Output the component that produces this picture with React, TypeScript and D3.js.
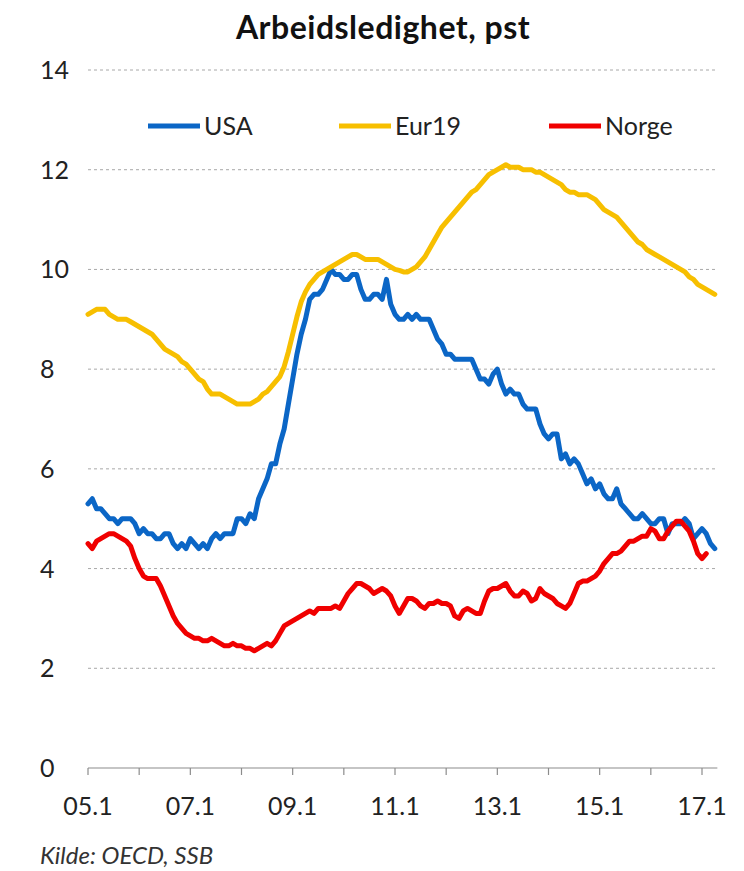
import { useEffect, useRef } from "react";
import * as d3 from "d3";

// monthly, starting January 2005
const usa = [
  5.3, 5.4, 5.2, 5.2, 5.1, 5.0, 5.0, 4.9, 5.0, 5.0, 5.0, 4.9,
  4.7, 4.8, 4.7, 4.7, 4.6, 4.6, 4.7, 4.7, 4.5, 4.4, 4.5, 4.4,
  4.6, 4.5, 4.4, 4.5, 4.4, 4.6, 4.7, 4.6, 4.7, 4.7, 4.7, 5.0,
  5.0, 4.9, 5.1, 5.0, 5.4, 5.6, 5.8, 6.1, 6.1, 6.5, 6.8, 7.3,
  7.8, 8.3, 8.7, 9.0, 9.4, 9.5, 9.5, 9.6, 9.8, 10.0, 9.9, 9.9,
  9.8, 9.8, 9.9, 9.9, 9.6, 9.4, 9.4, 9.5, 9.5, 9.4, 9.8, 9.3,
  9.1, 9.0, 9.0, 9.1, 9.0, 9.1, 9.0, 9.0, 9.0, 8.8, 8.6, 8.5,
  8.3, 8.3, 8.2, 8.2, 8.2, 8.2, 8.2, 8.0, 7.8, 7.8, 7.7, 7.9,
  8.0, 7.7, 7.5, 7.6, 7.5, 7.5, 7.3, 7.2, 7.2, 7.2, 6.9, 6.7,
  6.6, 6.7, 6.7, 6.2, 6.3, 6.1, 6.2, 6.1, 5.9, 5.7, 5.8, 5.6,
  5.7, 5.5, 5.4, 5.4, 5.6, 5.3, 5.2, 5.1, 5.0, 5.0, 5.1, 5.0,
  4.9, 4.9, 5.0, 5.0, 4.7, 4.9, 4.9, 4.9, 5.0, 4.9, 4.6, 4.7,
  4.8, 4.7, 4.5, 4.4,
];

const eur19 = [
  9.1, 9.15, 9.2, 9.2, 9.2, 9.1, 9.05, 9.0, 9.0, 9.0, 8.95, 8.9,
  8.85, 8.8, 8.75, 8.7, 8.6, 8.5, 8.4, 8.35, 8.3, 8.25, 8.15, 8.1,
  8.0, 7.9, 7.8, 7.75, 7.6, 7.5, 7.5, 7.5, 7.45, 7.4, 7.35, 7.3,
  7.3, 7.3, 7.3, 7.35, 7.4, 7.5, 7.55, 7.65, 7.75, 7.85, 8.05, 8.35,
  8.7, 9.05, 9.35, 9.55, 9.7, 9.8, 9.9, 9.95, 10.0, 10.05, 10.1, 10.15,
  10.2, 10.25, 10.3, 10.3, 10.25, 10.2, 10.2, 10.2, 10.2, 10.15, 10.1, 10.05,
  10.0, 9.98, 9.95, 9.95, 10.0, 10.05, 10.15, 10.25, 10.4, 10.55, 10.7, 10.85,
  10.95, 11.05, 11.15, 11.25, 11.35, 11.45, 11.55, 11.6, 11.7, 11.8, 11.9, 11.95,
  12.0, 12.05, 12.1, 12.05, 12.05, 12.05, 12.0, 12.0, 12.0, 11.95, 11.95, 11.9,
  11.85, 11.8, 11.75, 11.7, 11.6, 11.55, 11.55, 11.5, 11.5, 11.5, 11.45, 11.4,
  11.3, 11.2, 11.15, 11.1, 11.05, 10.95, 10.85, 10.75, 10.65, 10.55, 10.5, 10.4,
  10.35, 10.3, 10.25, 10.2, 10.15, 10.1, 10.05, 10.0, 9.95, 9.85, 9.8, 9.7,
  9.65, 9.6, 9.55, 9.5,
];

const norge = [
  4.5, 4.4, 4.55, 4.6, 4.65, 4.7, 4.7, 4.65, 4.6, 4.55, 4.45, 4.2,
  4.0, 3.85, 3.8, 3.8, 3.8, 3.65, 3.45, 3.25, 3.05, 2.9, 2.8, 2.7,
  2.65, 2.6, 2.6, 2.55, 2.55, 2.6, 2.55, 2.5, 2.45, 2.45, 2.5, 2.45,
  2.45, 2.4, 2.4, 2.35, 2.4, 2.45, 2.5, 2.45, 2.55, 2.7, 2.85, 2.9,
  2.95, 3.0, 3.05, 3.1, 3.15, 3.1, 3.2, 3.2, 3.2, 3.2, 3.25, 3.2,
  3.35, 3.5, 3.6, 3.7, 3.7, 3.65, 3.6, 3.5, 3.55, 3.6, 3.55, 3.45,
  3.25, 3.1, 3.25, 3.4, 3.4, 3.35, 3.25, 3.2, 3.3, 3.3, 3.35, 3.3,
  3.3, 3.25, 3.05, 3.0, 3.15, 3.2, 3.15, 3.1, 3.1, 3.35, 3.55, 3.6,
  3.6, 3.65, 3.7, 3.55, 3.45, 3.45, 3.55, 3.5, 3.35, 3.4, 3.6, 3.5,
  3.45, 3.4, 3.3, 3.25, 3.2, 3.3, 3.5, 3.7, 3.75, 3.75, 3.8, 3.85,
  3.95, 4.1, 4.2, 4.3, 4.3, 4.35, 4.45, 4.55, 4.55, 4.6, 4.65, 4.65,
  4.8, 4.75, 4.6, 4.6, 4.75, 4.85, 4.95, 4.95, 4.85, 4.75, 4.55, 4.3,
  4.2, 4.3,
];

const seriesNames = ["USA", "Eur19", "Norge"];
const seriesColors = ["#0B66C6", "#F7BF00", "#F00000"];
const xTickLabels = ["05.1", "07.1", "09.1", "11.1", "13.1", "15.1", "17.1"];
const yTicks = [0, 2, 4, 6, 8, 10, 12, 14];

const font = "Lato, 'Open Sans', sans-serif";

export default function App() {
  const svgRef = useRef<SVGSVGElement | null>(null);

  useEffect(() => {
    const svg = d3.select(svgRef.current);
    svg.selectAll("*").remove();

    const width = 744;
    const height = 871;
    svg.attr("width", width).attr("height", height);

    svg.append("rect").attr("width", width).attr("height", height).attr("fill", "#fff");

    const x = d3.scaleLinear().domain([0, 144]).range([88, 702]);
    const y = d3.scaleLinear().domain([0, 14]).range([768, 70]);
    const xEnd = x(147.6);

    // title
    svg
      .append("text")
      .attr("x", 383)
      .attr("y", 39)
      .attr("text-anchor", "middle")
      .attr("font-family", font)
      .attr("font-weight", 700)
      .attr("font-size", 32)
      .attr("letter-spacing", 0.5)
      .attr("fill", "#111")
      .text("Arbeidsledighet, pst");

    // gridlines
    svg
      .append("g")
      .selectAll("line")
      .data(yTicks.filter((t) => t > 0))
      .join("line")
      .attr("x1", x(0))
      .attr("x2", xEnd)
      .attr("y1", (d) => y(d))
      .attr("y2", (d) => y(d))
      .attr("stroke", "#a8a8a8")
      .attr("stroke-width", 1)
      .attr("stroke-dasharray", "3,3");

    // y labels (left aligned, like the original)
    svg
      .append("g")
      .selectAll("text")
      .data(yTicks)
      .join("text")
      .attr("x", 40)
      .attr("y", (d) => y(d))
      .attr("dy", "0.36em")
      .attr("font-family", font)
      .attr("font-size", 25)
      .attr("fill", "#222")
      .text((d) => d);

    // x axis
    const xAxis = svg.append("g").attr("transform", `translate(0, ${y(0)})`);
    xAxis
      .append("line")
      .attr("x1", x(0))
      .attr("x2", xEnd)
      .attr("stroke", "#8c8c8c")
      .attr("stroke-width", 1.2);
    xAxis
      .selectAll(".tick")
      .data(d3.range(0, 145, 12))
      .join("line")
      .attr("class", "tick")
      .attr("x1", (d) => x(d))
      .attr("x2", (d) => x(d))
      .attr("y1", 0)
      .attr("y2", 7)
      .attr("stroke", "#8c8c8c")
      .attr("stroke-width", 1.2);
    xAxis
      .selectAll(".lbl")
      .data(xTickLabels)
      .join("text")
      .attr("class", "lbl")
      .attr("x", (_d, i) => x(i * 24))
      .attr("y", 47)
      .attr("text-anchor", "middle")
      .attr("font-family", font)
      .attr("font-size", 25)
      .attr("fill", "#222")
      .text((d) => d);

    // lines
    const line = d3
      .line<number>()
      .x((_d, i) => x(i))
      .y((d) => y(d));

    [usa, eur19, norge].forEach((values, i) => {
      svg
        .append("path")
        .datum(values)
        .attr("d", line)
        .attr("fill", "none")
        .attr("stroke", seriesColors[i])
        .attr("stroke-width", 5)
        .attr("stroke-linejoin", "round")
        .attr("stroke-linecap", "round");
    });

    // legend
    const legendX = [148, 339, 549];
    const legend = svg
      .append("g")
      .selectAll("g")
      .data(seriesNames)
      .join("g")
      .attr("transform", (_d, i) => `translate(${legendX[i]}, 126)`);
    legend
      .append("line")
      .attr("x1", 0)
      .attr("x2", 52)
      .attr("stroke", (_d, i) => seriesColors[i])
      .attr("stroke-width", 5);
    legend
      .append("text")
      .attr("x", 56)
      .attr("dy", "0.36em")
      .attr("font-family", font)
      .attr("font-size", 25)
      .attr("fill", "#222")
      .text((d) => d);

    // source
    svg
      .append("text")
      .attr("x", 40)
      .attr("y", 864)
      .attr("font-family", font)
      .attr("font-style", "italic")
      .attr("font-size", 24)
      .attr("fill", "#333")
      .text("Kilde: OECD, SSB");
  }, []);

  return (
    <svg
      ref={svgRef}
      style={{ position: "absolute", left: 0, top: 0, display: "block" }}
    />
  );
}
